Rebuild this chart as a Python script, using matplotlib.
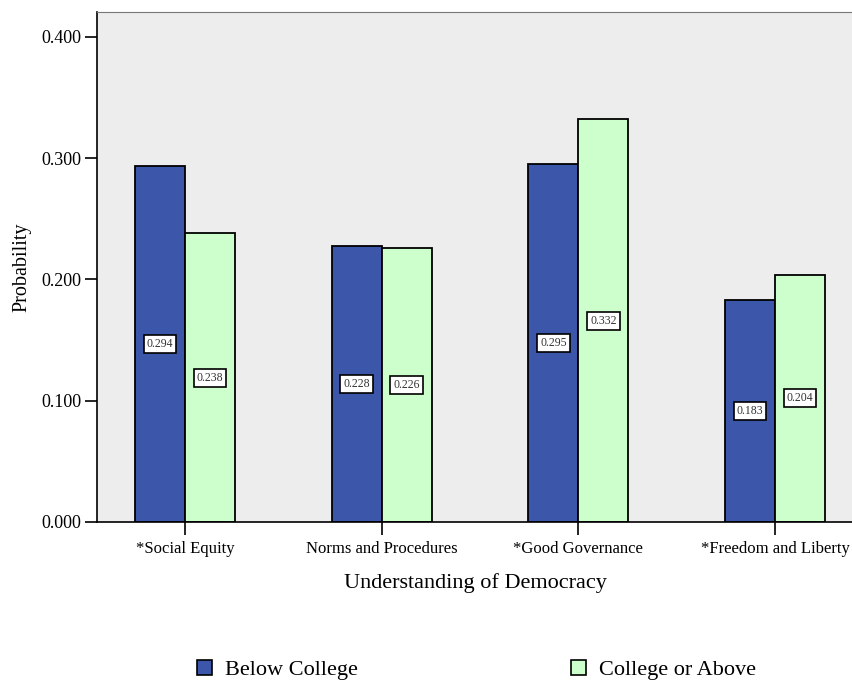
import matplotlib
matplotlib.use("agg")
import matplotlib.pyplot as plt
import numpy as np
from matplotlib.patches import Patch

categories = ["*Social Equity", "Norms and Procedures", "*Good Governance", "*Freedom and Liberty"]
below_college = [0.294, 0.228, 0.295, 0.183]
college_above = [0.238, 0.226, 0.332, 0.204]
series_names = ["Below College", "College or Above"]
yticks = [0.0, 0.1, 0.2, 0.3, 0.4]

blue = "#3c57a9"
green = "#ccffcc"
serif = ["Liberation Serif", "DejaVu Serif"]

plt.rcParams["font.family"] = serif

fig = plt.figure(figsize=(8.53, 6.83), dpi=100)
ax = fig.add_axes([97/853, 161/683, 756/853, 510/683])
ax.set_facecolor("#ededed")

x = np.arange(len(categories))
w = 0.254
b1 = ax.bar(x - w/2, below_college, w, color=blue, edgecolor="black", linewidth=1.3, zorder=2)
b2 = ax.bar(x + w/2, college_above, w, color=green, edgecolor="black", linewidth=1.3, zorder=2)

# value boxes at half height
for bars, vals in ((b1, below_college), (b2, college_above)):
    for rect, v in zip(bars, vals):
        ax.text(rect.get_x() + rect.get_width()/2, v/2, "%.3f" % v,
                ha="center", va="center", fontsize=8.5, color="#333333", zorder=3,
                bbox=dict(boxstyle="square,pad=0.25", fc="white", ec="black", lw=1.2))

ax.set_xlim(-0.447, 3.396)
ax.set_ylim(0, 0.4206)
ax.set_yticks(yticks)
ax.set_yticklabels(["%.3f" % t for t in yticks], fontsize=13)
ax.set_xticks(x)
ax.set_xticklabels(categories, fontsize=12)
ax.tick_params(axis="both", length=9, width=1.2, direction="out", color="black")
ax.tick_params(axis="x", pad=5)
ax.tick_params(axis="y", pad=2)

for s in ("left", "bottom"):
    ax.spines[s].set_linewidth(1.2)
    ax.spines[s].set_color("black")
ax.spines["top"].set_color("#777777")
ax.spines["right"].set_visible(False)

ax.set_xlabel("Understanding of Democracy", fontsize=16, labelpad=11)
ax.set_ylabel("Probability", fontsize=14.5, labelpad=7)

handles = [Patch(facecolor=blue, edgecolor="black", linewidth=1.2),
           Patch(facecolor=green, edgecolor="black", linewidth=1.2)]
fig.legend(handles, series_names, loc="center", bbox_to_anchor=(0.559, 0.019),
           ncol=2, frameon=False, prop={"family": serif, "size": 16},
           handlelength=0.65, handleheight=0.65, handletextpad=0.6, columnspacing=9.6)

fig.savefig("out.png", dpi=100)
plt.close(fig)
